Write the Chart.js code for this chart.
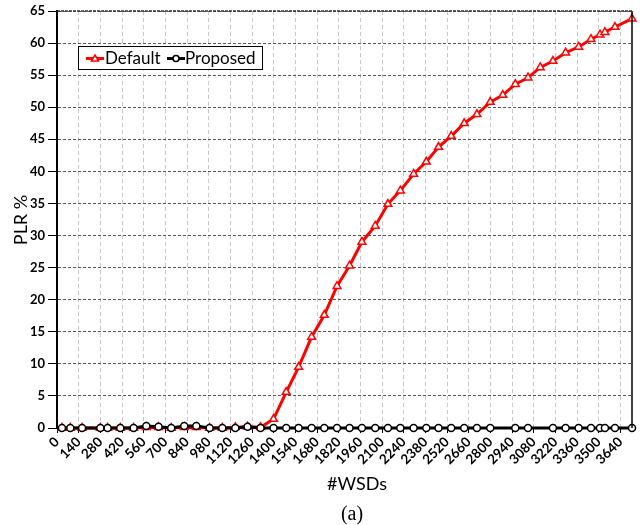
<!DOCTYPE html>
<html>
<head>
<meta charset="utf-8">
<script src="https://cdn.jsdelivr.net/npm/chart.js@4"></script>
<style>
  html, body { margin: 0; padding: 0; background: #fff; }
  #wrap { width: 642px; height: 525px; position: relative; }
</style>
</head>
<body>
<div id="wrap"><canvas id="graphique-plr"></canvas></div>
<script>
// #WSDs (x values shared by both series)
const nbWSDs = [32, 86, 162, 280, 327, 409, 495, 577, 656, 738, 822, 900, 986, 1068, 1152, 1231, 1315,
  1399, 1481, 1561, 1645, 1727, 1809, 1890, 1970, 2056, 2138, 2218, 2304, 2386, 2465, 2547, 2631,
  2713, 2799, 2880, 2961, 3043, 3122, 3204, 3286, 3370, 3450, 3508, 3540, 3605, 3715];

// PLR % - Default
const plrDefault = [0, 0, 0, 0, 0, 0, 0, 0.1, 0.1, 0, 0.1, 0.1, 0, 0, 0.1, 0.2, 0.1,
  1.4, 5.6, 9.5, 14.2, 17.6, 22.1, 25.3, 29.0, 31.5, 34.9, 37.0, 39.6, 41.5, 43.8, 45.5, 47.5,
  48.9, 50.8, 51.9, 53.6, 54.6, 56.2, 57.2, 58.5, 59.4, 60.6, 61.3, 61.7, 62.5, 63.8];

// PLR % - Proposed (null = pas de point)
const plrProposed = [0, 0, 0, 0, 0, 0, 0, 0.3, 0.2, 0, 0.3, 0.3, 0, 0, 0, 0.2, 0,
  0, 0, 0, 0, 0, 0, 0, 0, 0, 0, 0, 0, 0, 0, 0, 0,
  0, 0, null, 0, 0, null, 0, 0, 0, 0, 0, 0, 0, 0];

const labelsSeries = ["Default", "Proposed"];
const xMin = 0, xMax = 3715, xStep = 140;
const yMin = 0, yMax = 65, yStep = 5;

const toPoints = (ys) => nbWSDs.map((x, i) => ({ x: x, y: ys[i] })).filter((p) => p.y !== null);

const tickFont = { family: "Lato", weight: "bold", size: 13 };

// Titres, cadre et légende dessinés sur le canvas
const decorPlugin = {
  id: "decor",
  afterDraw(chart) {
    const ctx = chart.ctx;
    const a = chart.chartArea;
    ctx.save();
    // cadre haut / droite
    ctx.strokeStyle = "#000";
    ctx.lineWidth = 1.5;
    ctx.beginPath();
    ctx.moveTo(a.right, a.top);
    ctx.lineTo(a.right, a.bottom);
    ctx.stroke();
    ctx.strokeStyle = "#333";
    ctx.lineWidth = 1.5;
    ctx.setLineDash([3, 1]);
    ctx.beginPath();
    ctx.moveTo(a.left, a.top);
    ctx.lineTo(a.right, a.top);
    ctx.stroke();
    ctx.setLineDash([]);

    // titres
    ctx.fillStyle = "#000";
    ctx.font = "18px Lato";
    ctx.textAlign = "center";
    ctx.textBaseline = "alphabetic";
    ctx.fillText("#WSDs", 357, 490);
    ctx.font = "20px 'Liberation Serif'";
    ctx.fillText("(a)", 352, 520);
    ctx.save();
    ctx.translate(27, 220);
    ctx.rotate(-Math.PI / 2);
    ctx.font = "18px Lato";
    ctx.fillText("PLR %", 0, 0);
    ctx.restore();

    // légende
    const lx = a.left + 21, ly = a.top + 35, lw = 184, lh = 23;
    ctx.fillStyle = "#fff";
    ctx.fillRect(lx, ly, lw, lh);
    ctx.strokeStyle = "#000";
    ctx.lineWidth = 1;
    ctx.strokeRect(lx + 0.5, ly + 0.5, lw, lh);
    const cy = ly + lh / 2 + 1;
    ctx.font = "17px Lato";
    ctx.textAlign = "left";
    ctx.textBaseline = "middle";
    // Default
    ctx.strokeStyle = "#ff0000";
    ctx.lineWidth = 3;
    ctx.beginPath();
    ctx.moveTo(lx + 8, cy);
    ctx.lineTo(lx + 26, cy);
    ctx.stroke();
    ctx.lineWidth = 1.5;
    ctx.fillStyle = "#fff";
    ctx.beginPath();
    ctx.moveTo(lx + 17, cy - 3.5);
    ctx.lineTo(lx + 20.5, cy + 2.5);
    ctx.lineTo(lx + 13.5, cy + 2.5);
    ctx.closePath();
    ctx.fill();
    ctx.stroke();
    ctx.fillStyle = "#000";
    ctx.fillText(labelsSeries[0], lx + 27, cy);
    // Proposed
    ctx.strokeStyle = "#000";
    ctx.lineWidth = 3;
    ctx.beginPath();
    ctx.moveTo(lx + 89, cy);
    ctx.lineTo(lx + 107, cy);
    ctx.stroke();
    ctx.lineWidth = 1.5;
    ctx.fillStyle = "#fff";
    ctx.beginPath();
    ctx.arc(lx + 98, cy, 3, 0, Math.PI * 2);
    ctx.fill();
    ctx.stroke();
    ctx.fillStyle = "#000";
    ctx.fillText(labelsSeries[1], lx + 107, cy);
    ctx.restore();
  },
};

const data = {
  datasets: [
    {
      label: labelsSeries[0],
      data: toPoints(plrDefault),
      borderColor: "#ff0000",
      borderWidth: 3,
      pointStyle: "triangle",
      pointRadius: 4.5,
      pointBorderWidth: 1.5,
      pointBorderColor: "#ff0000",
      pointBackgroundColor: "#ffffff",
      tension: 0,
      order: 2,
      clip: false,
    },
    {
      label: labelsSeries[1],
      data: toPoints(plrProposed),
      borderColor: "#000000",
      borderWidth: 3,
      pointStyle: "circle",
      pointRadius: 3.5,
      pointBorderWidth: 1.5,
      pointBorderColor: "#000000",
      pointBackgroundColor: "#ffffff",
      tension: 0,
      order: 1,
      clip: false,
    },
  ],
};

const config = {
  type: "line",
  data: data,
  plugins: [decorPlugin],
  options: {
    responsive: false,
    animation: false,
    layout: { padding: { top: 11, right: 10, left: 0, bottom: 0 } },
    plugins: { legend: { display: false }, tooltip: { enabled: false } },
    scales: {
      x: {
        type: "linear",
        min: xMin,
        max: xMax,
        afterFit: (scale) => { scale.height = 97; },
        ticks: {
          stepSize: xStep,
          includeBounds: false,
          autoSkip: false,
          minRotation: 45,
          maxRotation: 45,
          color: "#000",
          font: { family: "Lato", weight: "bold", size: 13.5 },
          padding: 1,
          callback: (v) => String(v),
        },
        grid: {
          color: "#c8c8c8",
          tickColor: "#000",
          tickBorderDash: [],
          tickLength: 5,
          lineWidth: 1,
        },
        border: { display: true, color: "#000", width: 2, dash: [4, 3] },
      },
      y: {
        min: yMin,
        max: yMax,
        afterFit: (scale) => { scale.width = 57; },
        ticks: { stepSize: yStep, color: "#000", font: tickFont, padding: 3 },
        grid: {
          color: "#555",
          tickColor: "#000",
          tickBorderDash: [],
          tickLength: 9,
          lineWidth: 1,
        },
        border: { display: true, color: "#000", width: 2, dash: [3, 2] },
      },
    },
  },
};

const canvas = document.querySelector("#graphique-plr");
canvas.width = 642;
canvas.height = 525;
new Chart(canvas, config);
</script>
</body>
</html>
